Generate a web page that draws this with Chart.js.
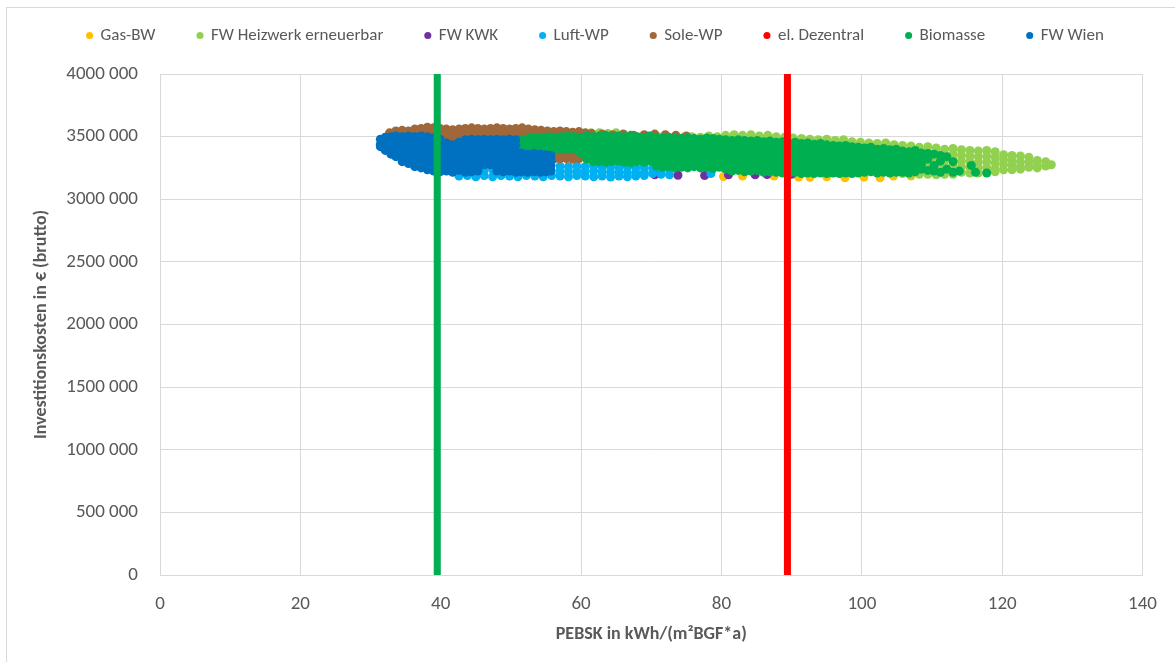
<!DOCTYPE html>
<html>
<head>
<meta charset="utf-8">
<script src="https://cdn.jsdelivr.net/npm/chart.js@4"></script>
<style>
  html, body { margin: 0; padding: 0; background: #fff; }
</style>
</head>
<body>
<canvas id="myChart" width="1175" height="662"></canvas>
<script>
// Legend entries, in Excel order (first one is drawn at the bottom)
const seriesNames = ['Gas-BW', 'FW Heizwerk erneuerbar', 'FW KWK', 'Luft-WP', 'Sole-WP', 'el. Dezentral', 'Biomasse', 'FW Wien'];
const seriesColors = ['#FFC000', '#92D050', '#7030A0', '#00B0F0', '#A0683A', '#FF0000', '#00B050', '#0070C0'];

// Points, one column per entry: [PEBSK, cost1, cost2, ...] with cost in k€
const gasBW = [
  [80.3, 3182], [83, 3185], [87.5, 3185], [91, 3178], [92.6, 3175], [95, 3180],
  [97.6, 3172], [100.3, 3178], [102.6, 3172], [104.5, 3185], [107, 3185]
];
const fwHeizwerk = [
  [55.4, 3505, 3460], [56.6, 3510, 3465], [57.8, 3515, 3470], [59, 3520, 3475], [60.2, 3525, 3480],
  [61.4, 3530, 3485], [62.6, 3530, 3485], [63.8, 3525, 3480], [65, 3530, 3485], [66.2, 3515, 3470],
  [67.4, 3505, 3460], [68.6, 3500, 3455], [69.8, 3505, 3460], [71, 3500, 3455], [72.2, 3495, 3450],
  [73.4, 3500, 3455], [74.6, 3495, 3450], [75.8, 3500, 3455], [77, 3495, 3450], [78.2, 3505, 3460],
  [79.4, 3500, 3455], [80.6, 3510, 3465], [81.8, 3515, 3470], [83, 3510, 3465], [84.2, 3515, 3470],
  [85.4, 3505, 3460], [86.6, 3510, 3465], [87.8, 3500, 3455], [89, 3495, 3450], [90.2, 3490, 3445],
  [91.4, 3485, 3440], [92.6, 3480, 3435], [93.8, 3475, 3430], [95, 3480, 3435], [96.2, 3470, 3425],
  [97.4, 3475, 3430], [98.6, 3460, 3415], [99.8, 3455, 3410], [101, 3450, 3405], [102.2, 3445, 3400],
  [103.4, 3450, 3405], [104.6, 3435, 3390],
  [105.8, 3430, 3385, 3340, 3295, 3250, 3205], [107, 3425, 3380, 3335, 3290, 3245, 3200],
  [108.2, 3415, 3370, 3325, 3280, 3235, 3200], [109.4, 3420, 3375, 3330, 3285, 3240, 3200],
  [110.6, 3410, 3365, 3320, 3275, 3230, 3195], [111.8, 3400, 3355, 3310, 3265, 3220, 3200],
  [113, 3405, 3360, 3315, 3270, 3225, 3200], [114.2, 3395, 3350, 3305, 3260, 3215],
  [115.4, 3390, 3345, 3300, 3255, 3210], [116.6, 3385, 3340, 3295, 3250, 3210],
  [117.8, 3390, 3345, 3300, 3255, 3215], [119, 3380, 3335, 3290, 3245, 3220],
  [120.2, 3355, 3315, 3275, 3235], [121.4, 3350, 3310, 3270, 3235], [122.6, 3345, 3300, 3260, 3240],
  [123.8, 3335, 3295, 3255], [125, 3310, 3270, 3250], [126.2, 3300, 3265], [127, 3275]
];
const fwKWK = [
  [70.5, 3195], [73.8, 3192], [77.6, 3190], [81, 3195], [84.8, 3195], [86.5, 3198], [90, 3200]
];
const luftWP = [
  [42.6, 3185], [43.8, 3190], [45, 3180], [46.2, 3235, 3190], [47.4, 3235, 3180], [48.6, 3190],
  [49.8, 3185], [51, 3180], [52.2, 3190], [53.4, 3185], [54.6, 3180], [55.8, 3190],
  [57, 3265, 3225, 3185], [58.2, 3260, 3220, 3180], [59.4, 3265, 3225, 3190], [60.6, 3260, 3220, 3185],
  [61.8, 3265, 3225, 3180], [63, 3260, 3220, 3185], [64.2, 3255, 3215, 3178], [65.4, 3260, 3220, 3185],
  [66.6, 3255, 3215, 3180], [67.8, 3250, 3210, 3185], [69, 3255, 3215, 3190], [70.2, 3245, 3205],
  [71.4, 3240, 3200], [72.6, 3230, 3195], [78.5, 3205]
];
const soleWP = [
  [32.7, 3530, 3490], [33.6, 3545, 3500], [34.5, 3550, 3505], [35.4, 3545, 3500], [36.3, 3560, 3515],
  [37.2, 3565, 3520], [38.1, 3575, 3530], [39, 3570, 3525], [39.9, 3565, 3520, 3475],
  [40.8, 3560, 3515, 3470, 3440], [41.7, 3555, 3510, 3465, 3430], [42.6, 3560, 3515, 3470],
  [43.5, 3565, 3520], [44.4, 3570, 3525], [45.3, 3565, 3520], [46.2, 3560, 3515], [47.1, 3565, 3520],
  [48, 3570, 3525], [48.9, 3565, 3520], [49.8, 3560, 3515], [50.7, 3565, 3520], [51.6, 3570, 3525, 3480],
  [52.5, 3560, 3515, 3470], [53.4, 3555, 3510, 3465], [54.3, 3550, 3505, 3460, 3415, 3370, 3330],
  [55.2, 3545, 3500, 3455, 3410, 3365, 3320], [56.1, 3540, 3495, 3450, 3405, 3360, 3320],
  [57, 3545, 3500, 3455, 3410, 3365, 3325], [57.9, 3540, 3495, 3450, 3405, 3360, 3325],
  [58.8, 3535, 3490, 3445, 3400, 3355, 3320], [59.7, 3540, 3495, 3450, 3405, 3360, 3325],
  [60.6, 3530, 3485, 3440, 3395, 3350], [61.5, 3525, 3480], [63, 3520, 3475], [64.5, 3515, 3470],
  [66, 3520, 3475], [67.5, 3510, 3465], [69, 3515, 3470], [70.5, 3520, 3475], [72, 3515, 3470],
  [73.5, 3510, 3465], [75, 3505, 3460]
];
const elDezentral = [
  [60, 3400], [65, 3350], [70, 3420], [78, 3300], [85, 3350], [90, 3300]
];
const biomasse = [
  [51.8, 3480, 3440, 3400], [52.7, 3490, 3445, 3400], [53.6, 3495, 3450, 3400], [54.5, 3490, 3445, 3395],
  [55.4, 3500, 3450, 3395], [56.3, 3495, 3445, 3398], [57.2, 3500, 3450, 3400], [58.1, 3505, 3455, 3400],
  [59, 3500, 3450, 3398], [59.9, 3495, 3445, 3395, 3370], [60.8, 3505, 3455, 3405, 3355, 3320],
  [61.7, 3500, 3450, 3400, 3350, 3300], [62.6, 3505, 3455, 3405, 3355, 3300],
  [63.5, 3510, 3460, 3410, 3360, 3310, 3295], [64.4, 3500, 3450, 3400, 3350, 3300],
  [65.3, 3505, 3455, 3405, 3355, 3305], [66.2, 3500, 3450, 3400, 3350, 3295],
  [67.1, 3510, 3460, 3410, 3360, 3310, 3290], [68, 3500, 3450, 3400, 3350, 3300],
  [68.9, 3495, 3445, 3395, 3345, 3295], [69.8, 3505, 3455, 3405, 3355, 3305],
  [70.7, 3495, 3445, 3395, 3345, 3295, 3265], [71.6, 3490, 3440, 3390, 3340, 3290, 3255],
  [72.5, 3495, 3445, 3395, 3345, 3295, 3260], [73.4, 3490, 3440, 3390, 3340, 3290, 3250],
  [74.3, 3485, 3435, 3385, 3335, 3285, 3255], [75.2, 3490, 3440, 3390, 3340, 3290, 3250],
  [76.1, 3485, 3435, 3385, 3335, 3285, 3260], [77, 3480, 3430, 3380, 3330, 3280, 3250],
  [77.9, 3490, 3440, 3390, 3340, 3290, 3255], [78.8, 3485, 3435, 3385, 3335, 3285, 3245],
  [79.7, 3480, 3430, 3380, 3330, 3280, 3255], [80.6, 3475, 3425, 3375, 3325, 3275, 3240],
  [81.5, 3470, 3420, 3370, 3320, 3270, 3225], [82.4, 3475, 3425, 3375, 3325, 3275, 3230],
  [83.3, 3470, 3420, 3370, 3320, 3270, 3220], [84.2, 3465, 3415, 3365, 3315, 3265, 3225],
  [85.1, 3470, 3420, 3370, 3320, 3270, 3230], [86, 3460, 3410, 3360, 3310, 3260, 3215],
  [86.9, 3465, 3415, 3365, 3315, 3265, 3220], [87.8, 3455, 3405, 3355, 3305, 3255, 3215],
  [88.7, 3460, 3410, 3360, 3310, 3260, 3210], [89.6, 3450, 3400, 3350, 3300, 3250, 3210],
  [90.5, 3455, 3405, 3355, 3305, 3255, 3215], [91.4, 3445, 3395, 3345, 3295, 3245, 3205],
  [92.3, 3450, 3400, 3350, 3300, 3250, 3210], [93.2, 3440, 3390, 3340, 3290, 3240, 3205],
  [94.1, 3445, 3395, 3345, 3295, 3245, 3210], [95, 3435, 3385, 3335, 3285, 3240, 3205],
  [95.9, 3430, 3380, 3330, 3280, 3235, 3210], [96.8, 3425, 3375, 3325, 3275, 3230, 3205],
  [97.7, 3430, 3380, 3330, 3280, 3235, 3210], [98.6, 3420, 3370, 3320, 3270, 3225, 3205],
  [99.5, 3415, 3365, 3315, 3265, 3220, 3210], [100.4, 3410, 3360, 3310, 3260, 3215],
  [101.3, 3415, 3365, 3315, 3265, 3220], [102.2, 3400, 3350, 3300, 3250, 3210],
  [103.1, 3405, 3355, 3305, 3255, 3215], [104, 3395, 3345, 3295, 3250, 3210],
  [104.9, 3400, 3350, 3300, 3255, 3215], [105.8, 3385, 3340, 3295, 3250, 3215],
  [106.7, 3380, 3335, 3290, 3245, 3210], [107.6, 3390, 3345, 3300, 3255, 3220],
  [108.5, 3370, 3325, 3280, 3240], [109.4, 3365, 3320, 3230],
  [110.3, 3360, 3270, 3225], [111.2, 3350, 3305, 3215], [112.1, 3340, 3240],
  [113, 3300, 3215], [113.9, 3225], [115.6, 3270], [116.2, 3215], [117.8, 3210]
];
const fwWien = [
  [31.4, 3480, 3440, 3420], [32.1, 3495, 3455, 3415, 3390], [32.9, 3500, 3460, 3420, 3380, 3360],
  [33.6, 3505, 3460, 3415, 3370, 3340], [34.5, 3500, 3455, 3410, 3365, 3320, 3300],
  [35.4, 3505, 3460, 3415, 3370, 3325, 3285], [36.3, 3500, 3455, 3410, 3365, 3320, 3275, 3260],
  [37.2, 3505, 3460, 3415, 3370, 3325, 3280, 3250], [38.1, 3500, 3455, 3410, 3365, 3320, 3275, 3235],
  [39, 3490, 3445, 3400, 3355, 3310, 3265, 3225], [39.9, 3480, 3440, 3395, 3350, 3305, 3260, 3220],
  [40.8, 3450, 3405, 3360, 3315, 3270, 3225], [41.7, 3435, 3395, 3350, 3305, 3260, 3215],
  [42.6, 3455, 3410, 3365, 3320, 3275, 3230], [43.5, 3475, 3430, 3385, 3340, 3295, 3250, 3215],
  [44.4, 3480, 3435, 3390, 3345, 3300, 3255, 3220], [45.3, 3475, 3430, 3385, 3340, 3295, 3250, 3225],
  [46.2, 3480, 3435, 3390, 3345, 3300, 3275], [47.1, 3475, 3430, 3385, 3340, 3300, 3275],
  [48, 3480, 3435, 3390, 3345, 3300, 3255, 3225], [48.9, 3475, 3430, 3385, 3340, 3295, 3250, 3220],
  [49.8, 3480, 3435, 3390, 3345, 3300, 3255, 3225], [50.7, 3475, 3430, 3385, 3340, 3295, 3250, 3215],
  [51.5, 3370, 3330, 3290, 3250, 3220], [52.4, 3360, 3320, 3280, 3245, 3215],
  [53.3, 3365, 3325, 3285, 3250, 3220], [54.2, 3360, 3320, 3280, 3240, 3215],
  [55, 3355, 3315, 3275, 3240, 3220], [55.7, 3350, 3310, 3270, 3235, 3225]
];
const seriesData = [gasBW, fwHeizwerk, fwKWK, luftWP, soleWP, elDezentral, biomasse, fwWien];

// the two vertical limit lines
const limitX = [39.5, 89.4];
const limitColors = ['#00B050', '#FF0000'];

const textColor = '#595959';
const gridColor = '#D9D9D9';
Chart.defaults.font.family = 'Carlito, Lato, "Open Sans", sans-serif';
Chart.defaults.color = textColor;

function toPoints(columns) {
  const pts = [];
  columns.forEach(function (col) {
    for (let i = 1; i < col.length; i++) {
      pts.push({ x: col[0], y: col[i] * 1000 });
    }
  });
  return pts;
}

const datasets = seriesNames.map(function (name, i) {
  return {
    label: name,
    data: toPoints(seriesData[i]),
    backgroundColor: seriesColors[i],
    borderColor: seriesColors[i],
    borderWidth: 0,
    pointRadius: 4.5,
    pointHoverRadius: 4.5,
    // Excel paints later series on top, Chart.js paints low order on top
    order: seriesNames.length - i
  };
});

limitX.forEach(function (x, i) {
  datasets.push({
    label: 'limit' + i,
    data: [{ x: x, y: 0 }, { x: x, y: 4000000 }],
    showLine: true,
    borderColor: limitColors[i],
    backgroundColor: limitColors[i],
    borderWidth: 7,
    pointRadius: 0,
    order: -1
  });
});

// grey frame around the whole chart and fixed legend height
const framePlugin = {
  id: 'frame',
  beforeInit(chart) {
    const fit = chart.legend.fit;
    chart.legend.fit = function () {
      fit.call(this);
      this.height = 89;
    };
  },
  beforeDraw(chart) {
    const ctx = chart.ctx;
    ctx.save();
    ctx.fillStyle = '#fff';
    ctx.fillRect(0, 0, chart.width, chart.height);
    ctx.strokeStyle = gridColor;
    ctx.lineWidth = 1;
    ctx.strokeRect(6.5, 7.5, 1200, 700);
    ctx.restore();
  }
};

const ctx = document.getElementById('myChart').getContext('2d');
const myChart = new Chart(ctx, {
  type: 'scatter',
  data: { datasets: datasets },
  plugins: [framePlugin],
  options: {
    responsive: false,
    animation: false,
    layout: { padding: { left: 45, right: 29, top: -15, bottom: 0 } },
    plugins: {
      tooltip: { enabled: false },
      legend: {
        position: 'top',
        align: 'center',
        labels: {
          usePointStyle: true,
          pointStyle: 'circle',
          boxWidth: 5,
          boxHeight: 5,
          padding: 42,
          color: textColor,
          font: { size: 17 },
          filter: function (item) { return item.datasetIndex < seriesNames.length; },
          sort: function (a, b) { return a.datasetIndex - b.datasetIndex; }
        }
      }
    },
    scales: {
      x: {
        type: 'linear',
        min: 0,
        max: 140,
        afterFit: function (scale) { scale.height = 87; },
        ticks: { stepSize: 20, padding: 18, color: textColor, font: { size: 19 } },
        grid: { color: gridColor, drawTicks: false },
        border: { color: gridColor },
        title: {
          display: true,
          text: 'PEBSK in kWh/(m²BGF*a)',
          color: textColor,
          font: { size: 18, weight: 'bold' },
          padding: { top: 6, bottom: 17 }
        }
      },
      y: {
        type: 'linear',
        min: 0,
        max: 4000000,
        afterFit: function (scale) { scale.width = 115; },
        ticks: {
          stepSize: 500000,
          padding: 22,
          color: textColor,
          font: { size: 19 },
          callback: function (v) { return v === 0 ? '0' : (v / 1000) + ' 000'; }
        },
        grid: { color: gridColor, drawTicks: false },
        border: { color: gridColor },
        title: {
          display: true,
          text: 'Investitionskosten in € (brutto)',
          color: textColor,
          font: { size: 18, weight: 'bold' },
          padding: { top: -14, bottom: 0 }
        }
      }
    }
  }
});
</script>
</body>
</html>
